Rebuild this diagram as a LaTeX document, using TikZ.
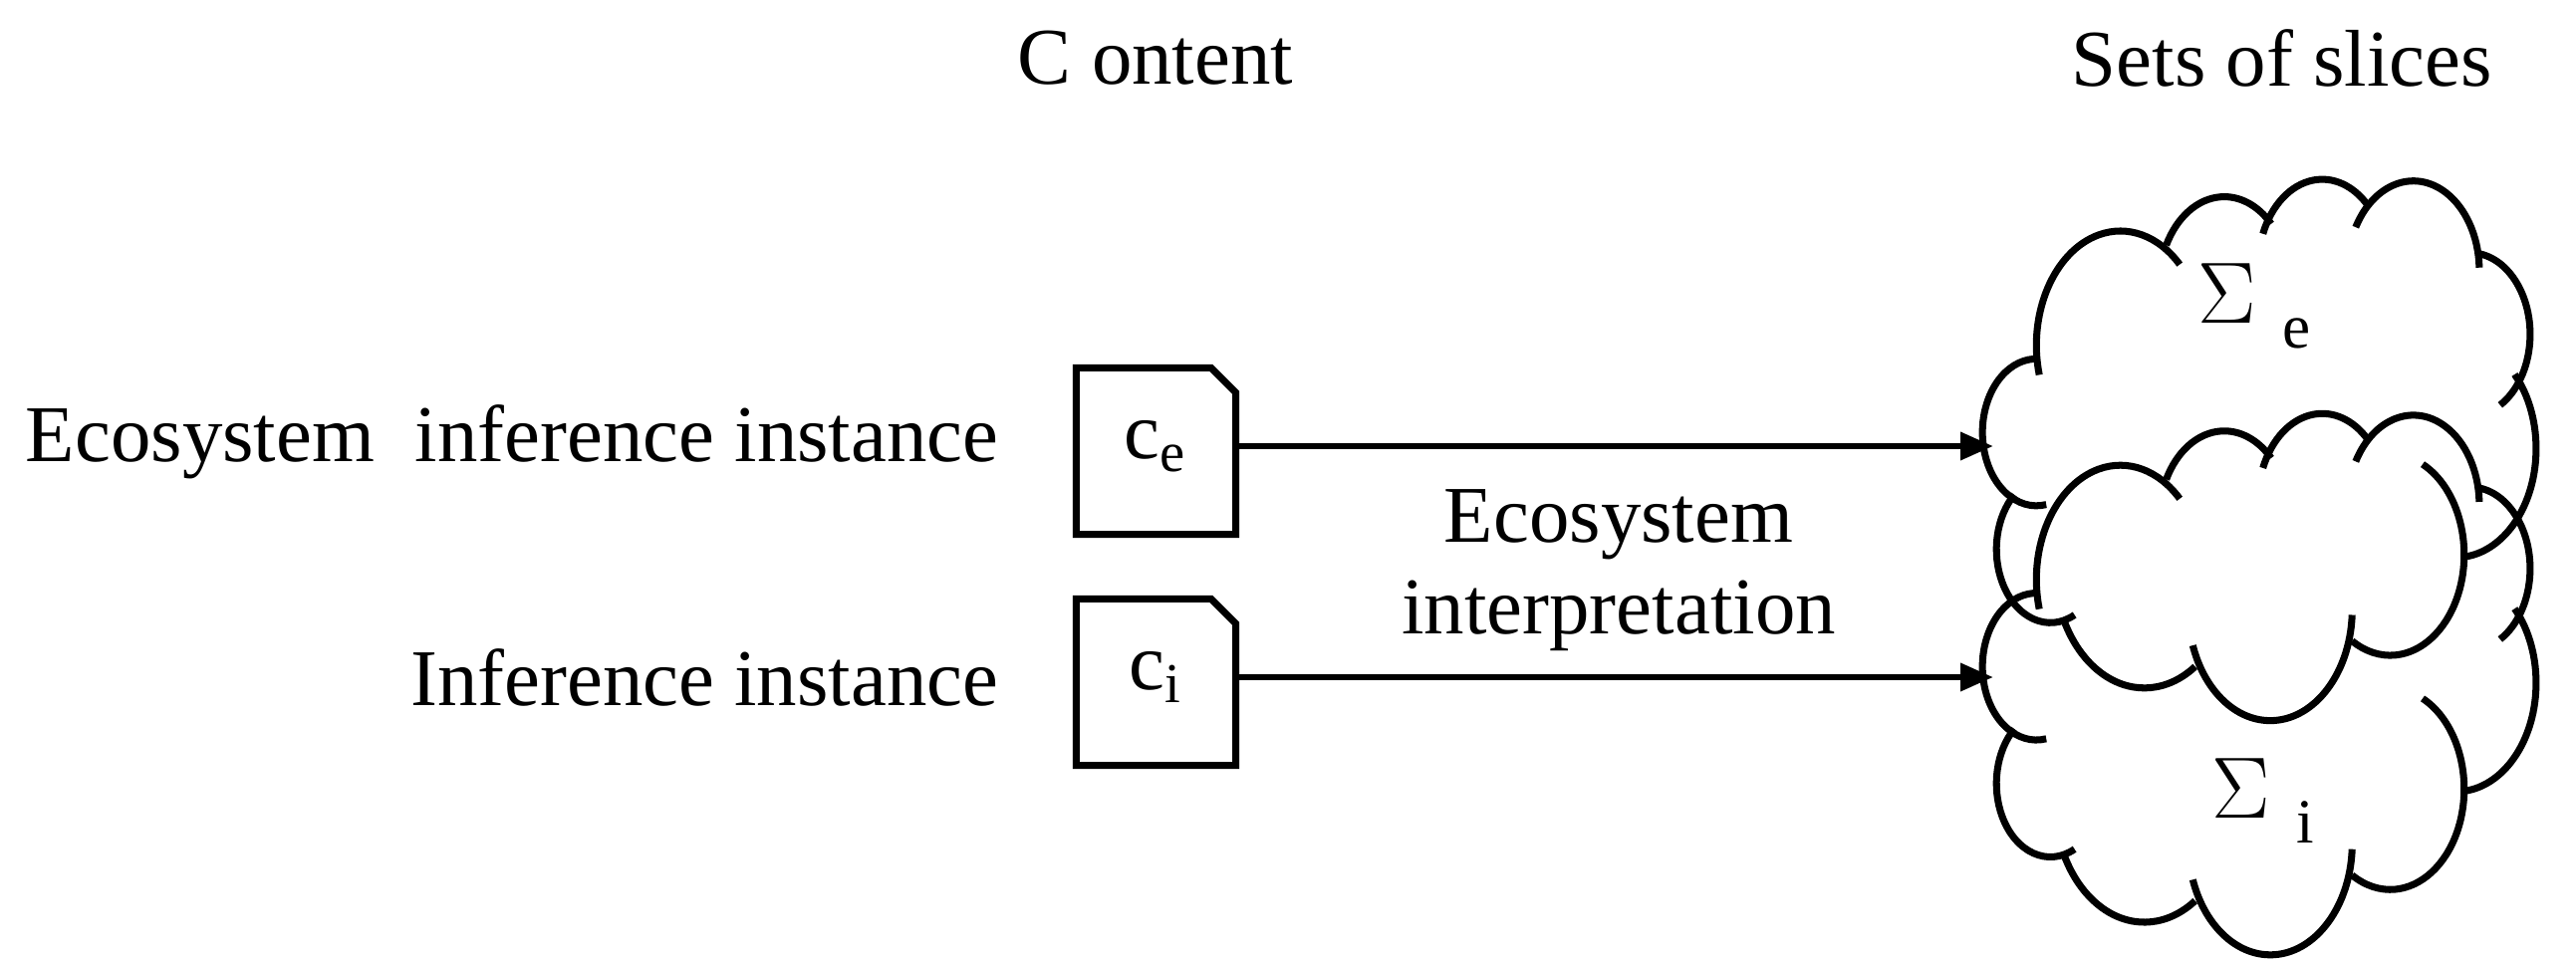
\documentclass[tikz,border=0pt]{standalone}
\usepackage{fontspec}
\setmainfont{Liberation Serif}
\usetikzlibrary{arrows.meta}
\begin{document}
\begin{tikzpicture}[x=1cm,y=1cm,
  lbl/.style={font=\fontsize{23}{26}\selectfont, inner sep=0pt},
  doc/.style={minimum width=1.59cm, minimum height=1.66cm, inner sep=0pt},
  conn/.style={line width=1.9pt,-{Triangle[length=0.33cm,width=0.27cm]}},
  cl/.style={line width=2pt}]
\useasboundingbox (0,0) rectangle (25.86,9.66);
% titles
\node[lbl] (content) at (11.60,9.08) {C ontent};
\node[lbl] (sets) at (22.91,9.08) {Sets of slices};
\node[lbl, anchor=east] (eii) at (10.03,5.22) {Ecosystem\ \ inference instance};
\node[lbl, anchor=east] (ii) at (10.03,2.86) {Inference instance};
% document boxes
\node[doc] (ce) at (11.605,5.13) {};
\node[doc] (ci) at (11.605,2.81) {};
\foreach \n in {ce,ci}{
  \draw[line width=2pt] (\n.south west) -- (\n.north west) -- ([xshift=-0.25cm]\n.north east)
    -- ([yshift=-0.25cm]\n.north east) -- (\n.south east) -- cycle;}
\node[lbl] (cel) at (11.60,5.18) {c$_{\mathrm{e}}$};
\node[lbl] (cil) at (11.60,2.86) {c$_{\mathrm{i}}$};
% clouds
\foreach \dy in {0,2.352}{
\begin{scope}[shift={(19.50,8.46-\dy)}, x=0.00402cm, y=0.00547cm]
   \draw[cl,shift={(235,-575)}] (-79.5:135) arc[start angle=-79.5,end angle=-272,radius=135];
   \draw[cl,shift={(445,-415)}] (195:210) arc[start angle=195,end angle=45,radius=210];
   \draw[cl,shift={(705,-305)}] (153:163) arc[start angle=153,end angle=44,radius=163];
   \draw[cl,shift={(950,-270)}] (158:160) arc[start angle=158,end angle=45,radius=160];
   \draw[cl,shift={(1178,-278)}] (151:165) arc[start angle=151,end angle=2,radius=165];
   \draw[cl,shift={(1320,-395)}] (84:150) arc[start angle=84,end angle=-60,radius=150];
   \draw[cl,shift={(1285,-605)}] (43:200) arc[start angle=43,end angle=-83,radius=200];
   \draw[cl,shift={(1120,-800)}] (64:185) arc[start angle=64,end angle=-121,radius=185];
   \draw[cl,shift={(820,-900)}] (-3:205) arc[start angle=-3,end angle=-161,radius=205];
   \draw[cl,shift={(505,-820)}] (-55.6:225) arc[start angle=-55.6,end angle=-153,radius=225];
   \draw[cl,shift={(270,-790)}] (-63.4:135) arc[start angle=-63.4,end angle=-228,radius=135];
\end{scope}}
\coordinate (sigA) at (20.01,5.18);
\coordinate (sigC) at (20.01,2.86);
\node[lbl] (se) at (22.63,6.59) {\fontsize{30}{32}\selectfont$\Sigma$\ {\fontsize{18}{20}\selectfont\raisebox{-0.25cm}{e}}};
\node[lbl] (si) at (22.72,1.62) {\fontsize{30}{32}\selectfont$\Sigma$\ {\fontsize{18}{20}\selectfont\raisebox{-0.25cm}{i}}};
% connectors
\draw[conn] (ce.east |- cel) -- (sigA);
\draw[conn] (ci.east |- cil) -- (sigC);
\node[lbl] (l1) at (16.25,4.39) {Ecosystem};
\node[lbl] (l2) at (16.25,3.48) {interpretation};
\end{tikzpicture}
\end{document}
